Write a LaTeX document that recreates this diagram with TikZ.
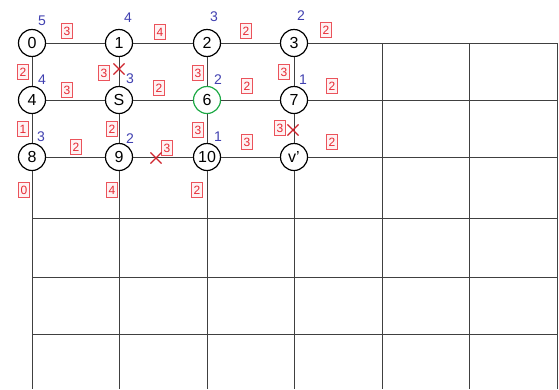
\documentclass[tikz,border=0pt]{standalone}
\usepackage{fontspec}
\setmainfont{Liberation Sans}
\usepackage{tikz}
\usetikzlibrary{shapes.misc}

\definecolor{distblue}{RGB}{64,64,176}
\definecolor{wred}{RGB}{230,40,50}
\definecolor{seen}{RGB}{30,170,70}

\tikzset{
  vtx/.style={circle,draw=black,line width=1.2pt,fill=white,minimum size=27pt,inner sep=0pt,font=\fontsize{16}{16}\selectfont},
  dist/.style={text=distblue,inner sep=0pt,font=\fontsize{14}{14}\selectfont},
  wgt/.style={draw=wred!80,line width=0.7pt,fill=wred!6,text=wred,inner sep=0pt,minimum width=11pt,minimum height=15pt,font=\fontsize{12}{12}\selectfont},
  cutmark/.style={cross out,draw=wred!90!black,line width=1.1pt,minimum size=10pt,inner sep=0pt},
  gridline/.style={draw=black!75,line width=0.9pt}
}

\begin{document}
\begin{tikzpicture}[x=1pt,y=-1pt]
\useasboundingbox (0,0) rectangle (559,389);
% vertices
\node[vtx] (n0) at (32,43) {0};
\node[vtx] (n1) at (119,43) {1};
\node[vtx] (n2) at (207,43) {2};
\node[vtx] (n3) at (294,43) {3};
\node[vtx] (n4) at (32,100) {4};
\node[vtx] (nS) at (119,100) {S};
\node[vtx,draw=seen] (n6) at (207,100) {6};
\node[vtx] (n7) at (294,100) {7};
\node[vtx] (n8) at (32,157) {8};
\node[vtx] (n9) at (119,157) {9};
\node[vtx] (n10) at (207,157) {10};
\node[vtx] (nv) at (294,157) {v'};
% free ends of the grid
\coordinate (r0) at (557,43);
\coordinate (r1) at (557,100);
\coordinate (r2) at (557,157);
\coordinate (b0) at (32,389);
\coordinate (b1) at (119,389);
\coordinate (b2) at (207,389);
\coordinate (b3) at (294,389);
% edges
\draw[gridline] (n0) -- (n1) -- (n2) -- (n3) -- (r0);
\draw[gridline] (n4) -- (nS) -- (n6) -- (n7) -- (r1);
\draw[gridline] (n8) -- (n9) -- (n10) -- (nv) -- (r2);
\draw[gridline] (n0) -- (n4) -- (n8) -- (b0);
\draw[gridline] (n1) -- (nS) -- (n9) -- (b1);
\draw[gridline] (n2) -- (n6) -- (n10) -- (b2);
\draw[gridline] (n3) -- (n7) -- (nv) -- (b3);
% rest of the grid
\foreach \gx in {382,469,557}
  \draw[gridline] (\gx,43) -- (\gx,389);
\foreach \gy in {218,277,334}
  \draw[gridline] (32,\gy) -- (557,\gy);
% distances
\foreach \px/\py/\d [count=\i] in {42/21/5,128/18/4,214/17/3,301/16/2,
    42/80/4,130/79/3,218/80/2,303/80/1,41/137/3,130/139/2,218/137/1}
  \node[dist] (d\i) at (\px,\py) {\d};
% weights
\foreach \px/\py/\w [count=\i] in {67/31/3,160/32/4,246/31/2,326/30/2,
    23/72/2,104/73/3,198/73/3,284/72/3,
    67/90/3,159/88/2,247/86/2,332/86/2,
    23/129/1,112/129/2,198/130/3,280/128/3,
    76/147/2,167/148/3,247/142/3,332/142/2,
    24/190/0,112/190/4,197/190/2}
  \node[wgt] (w\i) at (\px,\py) {\w};
% removed edges
\node[cutmark] (x1) at (119,69) {};
\node[cutmark] (x2) at (293,130) {};
\node[cutmark] (x3) at (156,158) {};
\end{tikzpicture}
\end{document}
